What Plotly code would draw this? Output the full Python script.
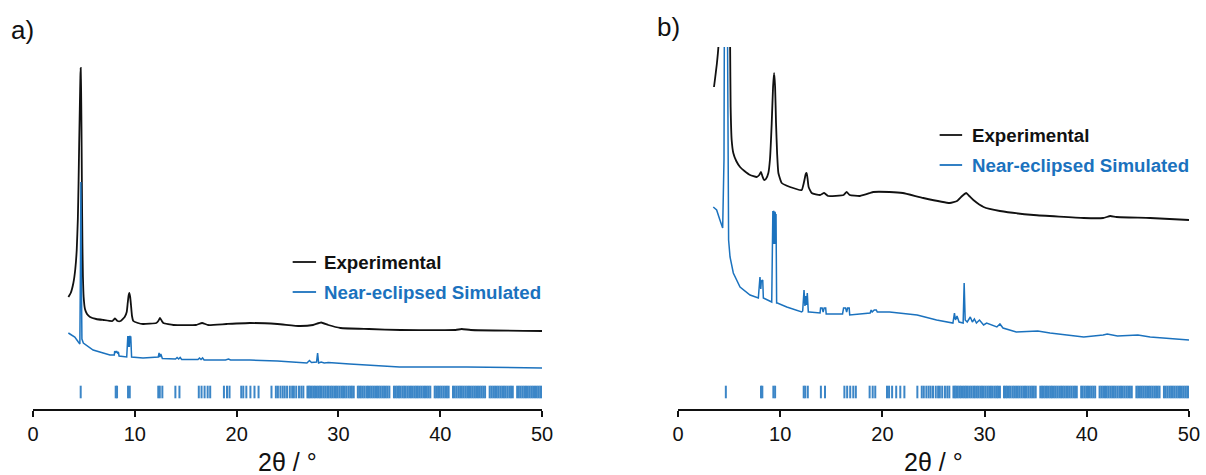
import plotly.graph_objects as go

# Powder XRD patterns, intensity in arbitrary units (stacked with offsets)
# panel a) experimental pattern: (2theta, intensity)
a_experimental = [
    (3.47, 112), (3.7, 116), (3.96, 126), (4.15, 140), (4.29, 159), (4.4, 190),
    (4.47, 226), (4.53, 265), (4.6, 305), (4.65, 332), (4.68, 341), (4.72, 320),
    (4.76, 280), (4.8, 220), (4.85, 165), (4.9, 132), (4.97, 112), (5.1, 100),
    (5.3, 95), (5.6, 92), (6.2, 90), (6.9, 89), (7.8, 88), (8.05, 90.5),
    (8.3, 88), (8.6, 88), (9.0, 92), (9.2, 97), (9.3, 106), (9.38, 113),
    (9.46, 116), (9.54, 112), (9.62, 104), (9.72, 93), (9.85, 88), (10.3, 86),
    (10.8, 85), (12.1, 86), (12.3, 88), (12.47, 91), (12.65, 88), (12.8, 86),
    (13.8, 84), (16.0, 84), (16.6, 86), (17.2, 84), (19.0, 85), (21.3, 86),
    (24.0, 85), (26.2, 83), (27.5, 84), (28.3, 86.5), (29.0, 84), (30.2, 81),
    (33.0, 80), (36.1, 79), (41.5, 79), (42.1, 80), (43.0, 79), (50.0, 78),
]

# panel a) near-eclipsed simulated pattern
a_simulated = [
    (3.47, 76), (4.1, 72), (4.45, 67), (4.6, 65), (4.66, 150), (4.7, 227),
    (4.74, 140), (4.8, 70), (4.94, 66), (5.9, 59), (7.55, 54), (7.98, 54),
    (8.02, 58), (8.1, 56), (8.2, 58), (8.3, 56), (8.38, 57), (8.45, 53),
    (9.2, 52), (9.25, 73), (9.28, 62), (9.31, 73), (9.34, 62), (9.37, 73),
    (9.4, 62), (9.43, 73), (9.46, 62), (9.49, 73), (9.52, 62), (9.55, 72),
    (9.6, 72), (9.68, 52), (10.8, 51), (12.3, 52), (12.38, 56), (12.45, 52),
    (12.55, 55), (12.62, 51), (12.7, 50.5), (14.0, 50), (14.15, 51.5),
    (14.3, 50), (14.45, 51.5), (14.6, 49.5), (16.2, 49.5), (16.35, 51),
    (16.5, 49.5), (16.65, 51), (16.8, 49), (18.9, 49), (19.2, 50), (19.4, 49),
    (21.3, 49), (24.0, 48), (26.9, 46), (27.15, 48.5), (27.35, 46.5),
    (27.85, 47), (27.95, 56), (28.05, 46), (28.3, 47), (28.6, 46), (29.0, 46.5),
    (31.1, 45), (36.0, 42), (42.6, 42), (50.0, 41),
]

# panel b) experimental pattern
b_experimental = [
    (3.52, 322), (3.62, 330), (3.8, 345), (3.95, 362), (4.1, 420), (4.4, 700),
    (4.7, 1100), (4.95, 600), (5.1, 362), (5.15, 302), (5.25, 269), (5.41, 256),
    (5.7, 248), (6.07, 242), (6.5, 238), (7.05, 234), (7.7, 232), (7.95, 234),
    (8.12, 237), (8.25, 233), (8.42, 229), (8.6, 230), (8.84, 236), (9.0, 250),
    (9.17, 286), (9.3, 322), (9.4, 336), (9.5, 322), (9.59, 286), (9.7, 255),
    (9.82, 236), (10.15, 226), (10.96, 222), (12.1, 219), (12.33, 227),
    (12.5, 235), (12.59, 236), (12.68, 230), (12.78, 222), (13.08, 216),
    (13.9, 214), (14.3, 216), (14.7, 213), (16.2, 214), (16.5, 217), (16.8, 214),
    (17.8, 213), (18.8, 216), (19.1, 217), (20.7, 217), (22.0, 216), (24.0, 211),
    (26.6, 206), (27.3, 208), (27.8, 213), (28.2, 216), (28.5, 213), (28.9, 209),
    (29.9, 202), (31.5, 198), (34.8, 194), (39.7, 191), (41.6, 191), (42.3, 193),
    (42.9, 192), (46.2, 191), (50.0, 189),
]

# panel b) near-eclipsed simulated pattern
b_simulated = [
    (3.45, 202), (3.78, 199), (4.1, 189), (4.37, 181), (4.5, 250), (4.6, 362),
    (4.7, 1000), (4.85, 362), (4.92, 202), (4.95, 169), (5.09, 152), (5.41, 136),
    (6.07, 122), (7.05, 114), (7.86, 111), (7.95, 131), (8.02, 132), (8.1, 120),
    (8.15, 128), (8.29, 129), (8.35, 111), (9.17, 107), (9.22, 198), (9.25, 165),
    (9.28, 198), (9.31, 165), (9.34, 198), (9.37, 165), (9.4, 197), (9.43, 165),
    (9.46, 197), (9.49, 165), (9.52, 196), (9.55, 165), (9.59, 195), (9.65, 106),
    (9.72, 106), (10.64, 102), (12.1, 97), (12.2, 98), (12.33, 119), (12.42, 103),
    (12.5, 113), (12.58, 104), (12.65, 116), (12.75, 97), (12.85, 97), (13.9, 96),
    (13.95, 101), (14.1, 101), (14.2, 97), (14.3, 101), (14.45, 101), (14.5, 95),
    (16.1, 95), (16.2, 101), (16.4, 101), (16.5, 97), (16.6, 101), (16.75, 101),
    (16.8, 94), (18.8, 96), (18.9, 99), (19.0, 97), (19.2, 99), (19.4, 99),
    (19.5, 97), (20.7, 97), (23.4, 94), (25.3, 89), (26.9, 86), (27.05, 96),
    (27.15, 89), (27.3, 93), (27.5, 87), (27.9, 86), (28.0, 126), (28.1, 89),
    (28.3, 87), (28.6, 92), (28.8, 87), (29.0, 90), (29.2, 86), (29.5, 89),
    (29.9, 84), (30.2, 86), (31.2, 82), (31.5, 85), (31.8, 81), (33.1, 77),
    (35.2, 78), (36.4, 76), (39.7, 72), (41.6, 74), (42.0, 75), (43.0, 73),
    (45.0, 74), (46.2, 72), (50.0, 69),
]

# calculated reflection positions (2theta)
reflections = [
    4.68, 8.12, 8.25, 9.33, 9.5, 12.3, 12.45, 12.7, 13.98, 14.38,
    16.28, 16.55, 16.85, 17.15, 17.4, 18.75, 19.05, 19.3,
    20.45, 20.65, 20.95, 21.35, 21.75, 22.15, 23.42, 23.85, 24.05, 24.3,
    24.52, 24.72, 24.95, 25.22, 25.45, 25.62, 25.85, 26.12, 26.35, 26.55,
    26.95, 27.08, 27.22, 27.38, 27.55, 27.7, 27.88, 28.05, 28.2, 28.36,
    28.55, 28.72, 28.9, 29.05, 29.24, 29.4, 29.58, 29.75, 29.92, 30.1,
    30.28, 30.45, 30.62, 30.8, 31.0, 31.17, 31.32, 31.5, 31.9, 32.05,
    32.2, 32.38, 32.55, 32.74, 32.9, 33.08, 33.25, 33.42, 33.6, 33.78,
    33.95, 34.12, 34.3, 34.48, 34.65, 34.82, 35.0, 35.45, 35.62, 35.78,
    35.94, 36.1, 36.28, 36.45, 36.6, 36.78, 36.95, 37.12, 37.3, 37.48,
    37.64, 37.8, 37.98, 38.15, 38.33, 38.5, 38.68, 38.85, 39.02, 39.45,
    39.6, 39.78, 39.95, 40.12, 40.3, 40.48, 40.65, 40.82, 41.25, 41.42,
    41.6, 41.78, 41.95, 42.12, 42.3, 42.48, 42.65, 42.82, 43.0, 43.18,
    43.35, 43.52, 43.7, 43.88, 44.05, 44.22, 44.4, 44.85, 45.02, 45.2,
    45.38, 45.55, 45.72, 45.9, 46.08, 46.25, 46.42, 46.6, 46.78, 46.95,
    47.12, 47.55, 47.72, 47.9, 48.08, 48.25, 48.42, 48.6, 48.78, 48.95,
    49.12, 49.3, 49.48, 49.65, 49.82, 49.97,
]
reflection_level = 17

x_ticks = [0, 10, 20, 30, 40, 50]
series_names = ["Experimental", "Near-eclipsed Simulated"]
x_title = "2θ / °"

BLACK = "#111111"
BLUE = "#1b72be"
FONT = "Liberation Sans, Arial, sans-serif"


def unzip(pairs):
    return [p[0] for p in pairs], [p[1] for p in pairs]


fig = go.Figure()

panels = [
    ("x", "y", a_experimental, a_simulated),
    ("x2", "y2", b_experimental, b_simulated),
]
for xa, ya, exp_pairs, sim_pairs in panels:
    ex, ey = unzip(exp_pairs)
    sx, sy = unzip(sim_pairs)
    fig.add_trace(go.Scatter(x=ex, y=ey, mode="lines", xaxis=xa, yaxis=ya,
                             line=dict(color=BLACK, width=1.8, shape="spline",
                                       smoothing=0.4),
                             showlegend=False, hoverinfo="skip"))
    fig.add_trace(go.Scatter(x=sx, y=sy, mode="lines", xaxis=xa, yaxis=ya,
                             line=dict(color=BLUE, width=1.5),
                             showlegend=False, hoverinfo="skip"))
    fig.add_trace(go.Scatter(x=reflections, y=[reflection_level] * len(reflections),
                             mode="markers", xaxis=xa, yaxis=ya,
                             marker=dict(symbol="line-ns", size=9,
                                         line=dict(color=BLUE, width=2)),
                             opacity=0.85, showlegend=False, hoverinfo="skip"))

# legend entries drawn per panel: (x-axis, y-axis, line start, line end, text x, rows)
legend_specs = [
    ("x", "y", 25.5, 27.8, 28.4, [147, 117]),
    ("x2", "y2", 25.6, 27.8, 28.6, [274, 244]),
]
for xa, ya, x0, x1, xt, rows in legend_specs:
    for name, color, yy in zip(series_names, [BLACK, BLUE], rows):
        fig.add_shape(type="line", xref=xa, yref=ya, x0=x0, x1=x1, y0=yy, y1=yy,
                      line=dict(color=color, width=1.8))
        fig.add_annotation(xref=xa, yref=ya, x=xt, y=yy, text="<b>%s</b>" % name,
                           showarrow=False, xanchor="left", yanchor="middle",
                           font=dict(family=FONT, size=18.7, color=color))

# axis titles centred under each panel
for xa in ["x", "x2"]:
    fig.add_annotation(xref=xa + " domain", yref="paper", x=0.5, y=-0.146,
                       text=x_title, showarrow=False, xanchor="center",
                       yanchor="middle",
                       font=dict(family=FONT, size=25, color="#111111"))

fig.add_annotation(xref="paper", yref="paper", x=0.0075, y=1.046, text="a)",
                   showarrow=False, xanchor="left", yanchor="middle",
                   font=dict(family=FONT, size=26, color="#111111"))
fig.add_annotation(xref="paper", yref="paper", x=0.543, y=1.054, text="b)",
                   showarrow=False, xanchor="left", yanchor="middle",
                   font=dict(family=FONT, size=26, color="#111111"))

xaxis_style = dict(range=[0, 50], tickvals=x_ticks, ticks="outside", ticklen=6,
                   tickwidth=1.5, tickcolor="#111111", showline=True,
                   linecolor="#111111", linewidth=1.5, showgrid=False, zeroline=False,
                   tickfont=dict(family=FONT, size=20, color="#111111"))
yaxis_style = dict(range=[0, 362], visible=False, showgrid=False, zeroline=False)

fig.update_layout(
    width=1206, height=475,
    margin=dict(l=0, r=0, t=47, b=66, autoexpand=False),
    paper_bgcolor="white", plot_bgcolor="white",
    xaxis=dict(domain=[0.0274, 0.4495], anchor="y", **xaxis_style),
    xaxis2=dict(domain=[0.5622, 0.9859], anchor="y2", **xaxis_style),
    yaxis=dict(anchor="x", **yaxis_style),
    yaxis2=dict(anchor="x2", **yaxis_style),
    showlegend=False,
)

fig.write_html("out.html")
